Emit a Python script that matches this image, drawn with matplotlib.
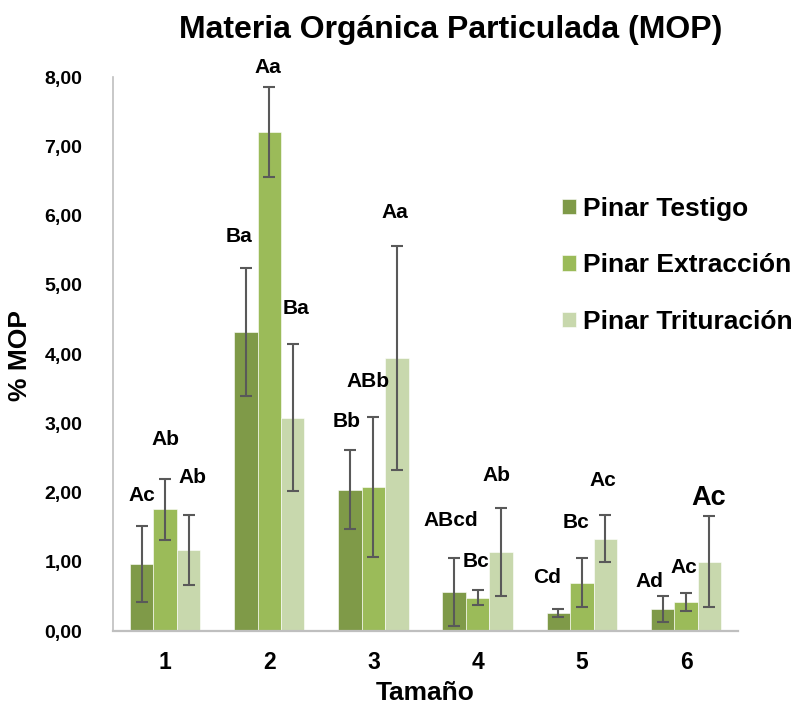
import matplotlib.pyplot as plt
import numpy as np

plt.rcParams['font.family'] = ['Liberation Sans', 'DejaVu Sans']
plt.rcParams['font.weight'] = 'bold'

# Particulate organic matter per size class and treatment
sizes = ['1', '2', '3', '4', '5', '6']
series = ['Pinar Testigo', 'Pinar Extracción', 'Pinar Trituración']
testigo = [0.97, 4.32, 2.04, 0.56, 0.26, 0.32]
extraccion = [1.76, 7.21, 2.08, 0.48, 0.70, 0.42]
trituracion = [1.17, 3.08, 3.94, 1.14, 1.33, 1.00]
err_testigo = [0.55, 0.92, 0.57, 0.49, 0.06, 0.19]
err_extraccion = [0.44, 0.65, 1.01, 0.11, 0.36, 0.13]
err_trituracion = [0.50, 1.06, 1.62, 0.63, 0.34, 0.66]

# significance letters per series, and where they sit (x, y)
letters_testigo = ['Ac', 'Ba', 'Bb', 'ABcd', 'Cd', 'Ad']
letters_extraccion = ['Ab', 'Aa', 'ABb', 'Bc', 'Bc', 'Ac']
letters_trituracion = ['Ab', 'Ba', 'Aa', 'Ab', 'Ac', 'Ac']
pos_testigo = [(0.78, 1.96), (1.71, 5.69), (2.74, 3.03), (3.74, 1.59), (4.67, 0.78), (5.65, 0.71)]
pos_extraccion = [(1.00, 2.76), (1.99, 8.14), (2.95, 3.60), (3.98, 1.00), (4.94, 1.56), (5.98, 0.92)]
pos_trituracion = [(1.26, 2.22), (2.26, 4.66), (3.21, 6.05), (4.18, 2.24), (5.20, 2.17), (6.22, 1.92)]

colors = ['#7f9a48', '#9bbb59', '#c8d8ad']

fig = plt.figure(figsize=(7.97, 7.06), dpi=100)
ax = fig.add_axes([0.1418, 0.1062, 0.7843, 0.7847])

x = np.arange(1, len(sizes) + 1)
w = 0.225
values = [testigo, extraccion, trituracion]
errors = [err_testigo, err_extraccion, err_trituracion]
for i in range(3):
    ax.bar(x + (i - 1) * w, values[i], w, color=colors[i], label=series[i],
           edgecolor='white', linewidth=0.4)
    ax.errorbar(x + (i - 1) * w, values[i], yerr=errors[i], fmt='none',
                ecolor='#595959', elinewidth=1.5, capsize=4.5, capthick=1.5)

letters = [letters_testigo, letters_extraccion, letters_trituracion]
positions = [pos_testigo, pos_extraccion, pos_trituracion]
for lab_list, pos_list in zip(letters, positions):
    for k, (lab, (px, py)) in enumerate(zip(lab_list, pos_list)):
        size = 19.5 if (lab_list is letters_trituracion and k == 5) else 15
        ax.text(px, py, lab, ha='center', va='center', fontsize=size,
                fontweight='bold', clip_on=False)

ax.set_xlim(0.5, 6.5)
ax.set_ylim(0, 8)
ax.set_xticks(x)
ax.set_xticklabels(sizes)
ax.set_yticks(np.arange(0, 9))
ax.set_yticklabels(['%d,00' % v for v in range(9)])
ax.tick_params(axis='both', length=0)
ax.tick_params(axis='y', pad=22, labelsize=14)
ax.tick_params(axis='x', pad=14.5, labelsize=16.5)

for s in ['top', 'right']:
    ax.spines[s].set_visible(False)
ax.spines['left'].set_color('#bfbfbf')
ax.spines['left'].set_linewidth(1.2)
ax.spines['bottom'].set_color('#bfbfbf')
ax.spines['bottom'].set_linewidth(1.6)

fig.text(0.534, 0.019, 'Tamaño', ha='center', va='center',
         fontsize=19, fontweight='bold')
fig.text(0.025, 0.496, '% MOP', rotation=90, ha='center', va='center',
         fontsize=19, fontweight='bold')
fig.text(0.566, 0.957, 'Materia Orgánica Particulada (MOP)', ha='center',
         va='center', fontsize=23, fontweight='bold')

leg = ax.legend(loc='upper left', bbox_to_anchor=(0.705, 0.721),
                bbox_transform=fig.transFigure, frameon=False, fontsize=19,
                handlelength=0.53, handleheight=0.53, handletextpad=0.27,
                labelspacing=1.23, borderpad=0, borderaxespad=0)

fig.savefig('out.png', dpi=100)
